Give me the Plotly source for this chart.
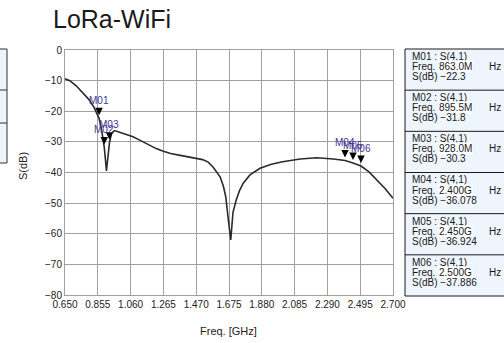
import plotly.graph_objects as go

# ---------------- data ----------------
freq_ghz = [0.65, 0.68, 0.72, 0.76, 0.80, 0.83, 0.863, 0.88, 0.8955, 0.903, 0.909,
            0.915, 0.921, 0.928, 0.94, 0.96, 1.00, 1.075, 1.12, 1.17, 1.22, 1.26, 1.31,
            1.37, 1.42, 1.47, 1.51, 1.545, 1.575, 1.60, 1.62, 1.64, 1.655, 1.671, 1.686,
            1.70, 1.72, 1.74, 1.764, 1.806, 1.869, 1.94, 2.01, 2.12, 2.223, 2.327, 2.40,
            2.45, 2.50, 2.55, 2.60, 2.65, 2.70]
s41_db = [-9.4, -10.0, -11.7, -13.8, -16.2, -18.6, -22.3, -26.5, -31.8, -36.0, -39.5,
          -36.5, -32.8, -30.3, -27.2, -26.3, -27.0, -28.3, -29.5, -30.9, -32.2, -33.0, -33.8,
          -34.4, -34.9, -35.3, -35.8, -36.6, -38.2, -40.0, -41.5, -44.5, -48.0, -55.5, -62.0,
          -53.0, -49.0, -46.0, -43.5, -40.8, -38.6, -37.3, -36.5, -35.6, -35.2, -35.6, -36.078,
          -36.924, -37.886, -39.8, -42.4, -45.2, -48.4]

marker_names = ["M01", "M02", "M03", "M04", "M05", "M06"]
marker_freq = [0.863, 0.8955, 0.928, 2.400, 2.450, 2.500]
marker_db = [-22.3, -31.8, -30.3, -36.078, -36.924, -37.886]
marker_freq_text = ["863.0M", "895.5M", "928.0M", "2.400G", "2.450G", "2.500G"]
marker_db_text = ["\u221222.3", "\u221231.8", "\u221230.3", "\u221236.078", "\u221236.924", "\u221237.886"]

x_tick_labels = ["0.650", "0.855", "1.060", "1.265", "1.470", "1.675",
                 "1.880", "2.085", "2.290", "2.495", "2.700"]
x_tick_vals = [float(t) for t in x_tick_labels]

# ---------------- layout geometry (pixels) ----------------
W, H = 504, 343
L, R, T, B = 65, 393, 50, 295
def pxx(px):
    return (px - L) / (R - L)
def pxy(py):
    return (B - py) / (B - T)

FONT = "Liberation Sans, Arial, sans-serif"
GRID = "#a0a0a0"

fig = go.Figure()
fig.add_trace(go.Scatter(x=freq_ghz, y=s41_db, mode="lines",
                         line=dict(color="#2b2b2b", width=1.6),
                         hoverinfo="skip", showlegend=False))

annotations = []
shapes = []

# marker triangles (arrow heads pointing to the curve) and labels
for name, f, v in zip(marker_names, marker_freq, marker_db):
    annotations.append(dict(x=f, y=v, xref="x", yref="y", text="", showarrow=True,
                            arrowhead=2, arrowsize=1.5, arrowwidth=1, arrowcolor="#000000",
                            ax=0, ay=-11, standoff=3))
for name, f, v in zip(marker_names, marker_freq, marker_db):
    annotations.append(dict(x=f, y=v, xref="x", yref="y", text=name, showarrow=False,
                            yshift=18, xanchor="center", yanchor="middle",
                            font=dict(family=FONT, size=10, color="#45358f")))

# title
annotations.append(dict(x=pxx(51), y=pxy(19), xref="paper", yref="paper", text="LoRa-WiFi",
                        showarrow=False, xanchor="left", yanchor="middle",
                        font=dict(family=FONT, size=25, color="#1a1a1a")))
# axis titles
annotations.append(dict(x=pxx(228), y=pxy(331), xref="paper", yref="paper", text="Freq. [GHz]",
                        showarrow=False, xanchor="center", yanchor="middle",
                        font=dict(family=FONT, size=11, color="#222222")))
annotations.append(dict(x=pxx(23), y=pxy(166), xref="paper", yref="paper", text="S(dB)",
                        showarrow=False, xanchor="center", yanchor="middle", textangle=-90,
                        font=dict(family=FONT, size=11, color="#222222")))

# right marker panel
PANEL_FILL = "#eef5fd"
p_top, p_bot, p_left, p_right = 49, 296, 405, 530
shapes.append(dict(type="rect", xref="paper", yref="paper",
                   x0=pxx(p_left), x1=pxx(p_right), y0=pxy(p_bot), y1=pxy(p_top),
                   fillcolor=PANEL_FILL, line=dict(color="#1a1a1a", width=1), layer="below"))
eh = (p_bot - p_top) / len(marker_names)
for i in range(1, len(marker_names)):
    yy = p_top + eh * i
    shapes.append(dict(type="line", xref="paper", yref="paper",
                       x0=pxx(p_left), x1=pxx(p_right), y0=pxy(yy), y1=pxy(yy),
                       line=dict(color="#1a1a1a", width=1)))
for i, (name, ft, dt) in enumerate(zip(marker_names, marker_freq_text, marker_db_text)):
    top = p_top + eh * i
    tf = dict(family=FONT, size=10, color="#1a1a1a")
    annotations.append(dict(x=pxx(410), y=pxy(top + 7.5), xref="paper", yref="paper",
                            text=f"{name} : S(4,1)", showarrow=False, xanchor="left",
                            yanchor="middle", font=tf))
    annotations.append(dict(x=pxx(410), y=pxy(top + 17.5), xref="paper", yref="paper",
                            text="Freq.", showarrow=False, xanchor="left",
                            yanchor="middle", font=tf))
    annotations.append(dict(x=pxx(438), y=pxy(top + 17.5), xref="paper", yref="paper",
                            text=ft, showarrow=False, xanchor="left", bgcolor="#ffffff",
                            borderpad=0, yanchor="middle", font=tf))
    annotations.append(dict(x=pxx(487), y=pxy(top + 17.5), xref="paper", yref="paper",
                            text="Hz", showarrow=False, xanchor="left",
                            yanchor="middle", font=tf))
    annotations.append(dict(x=pxx(410), y=pxy(top + 27.5), xref="paper", yref="paper",
                            text="S(dB) " + dt, showarrow=False, xanchor="left",
                            yanchor="middle", font=tf))

# left partial panel (cut off at the image edge)
shapes.append(dict(type="rect", xref="paper", yref="paper",
                   x0=pxx(-20), x1=pxx(7), y0=pxy(163), y1=pxy(49),
                   fillcolor=PANEL_FILL, line=dict(color="#333333", width=1), layer="below"))
for yy in (90, 123):
    shapes.append(dict(type="line", xref="paper", yref="paper",
                       x0=pxx(-20), x1=pxx(7), y0=pxy(yy), y1=pxy(yy),
                       line=dict(color="#333333", width=1)))

fig.update_layout(
    width=W, height=H,
    margin=dict(l=L, r=W - R, t=T, b=H - B, pad=0),
    paper_bgcolor="#ffffff", plot_bgcolor="#ffffff",
    font=dict(family=FONT, size=10, color="#222222"),
    annotations=annotations, shapes=shapes,
    showlegend=False,
)
fig.update_xaxes(range=[0.65, 2.70], tickvals=x_tick_vals, ticktext=x_tick_labels,
                 showgrid=True, gridcolor=GRID, gridwidth=1,
                 showline=True, linecolor=GRID, linewidth=1, mirror=True,
                 ticks="", zeroline=False, tickfont=dict(size=10, color="#222222"))
fig.update_yaxes(range=[-80, 0], dtick=10, tick0=0,
                 showgrid=True, gridcolor=GRID, gridwidth=1,
                 showline=True, linecolor=GRID, linewidth=1, mirror=True,
                 ticks="", zeroline=False, tickfont=dict(size=10, color="#222222"))

fig.write_html("out.html", config={"displayModeBar": False})
